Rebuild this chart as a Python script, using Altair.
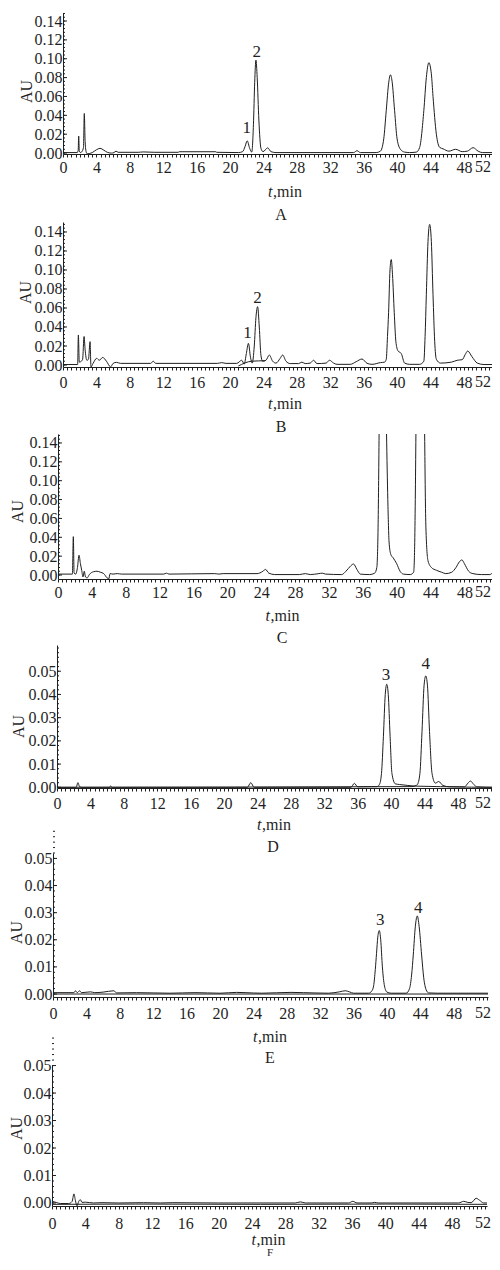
import altair as alt
import pandas as pd

FONT = "Liberation Serif"
INK = "#1f1f1f"

# ---------------- data ----------------
# Panel A
A_T = [0, 1.7, 1.82, 1.88, 1.95, 2.1, 2.3, 2.45, 2.55, 2.65, 2.78, 2.9, 3.5, 4.0, 4.43, 4.9, 5.3, 5.8, 6.1, 6.35,
       6.6, 9.0, 9.6, 11.0, 13.8, 13.9, 18.3, 18.4, 21.0, 21.5, 21.8, 22.05, 22.35, 22.6, 22.8, 22.95, 23.1, 23.25,
       23.45, 23.7, 23.95, 24.5, 24.9, 25.5, 34.8, 35.2, 35.6, 37.5, 38.0, 38.4, 38.7, 39.0, 39.2, 39.4, 39.7, 40.0,
       40.4, 40.9, 41.5, 42.3, 42.7, 43.2, 43.5, 43.8, 44.1, 44.3, 44.7, 45.1, 45.5, 46.2, 47.0, 47.8, 48.4, 49.1,
       49.7, 50.2, 52.2]
A_AU = [0.0005, 0.0005, 0.003, 0.018, 0.002, 0.0005, 0.002, 0.006, 0.042, 0.012, 0.001, -0.0008, 0.0005, 0.0035,
        0.005, 0.003, 0.0008, 0.0, 0.0005, 0.002, 0.0008, 0.0008, 0.0012, 0.0008, 0.0008, 0.0014, 0.0014, 0.0008,
        0.0005, 0.0015, 0.007, 0.013, 0.005, 0.001, 0.03, 0.075, 0.0986, 0.08, 0.035, 0.005, 0.0015, 0.0055, 0.0015,
        0.0005, 0.0005, 0.0025, 0.0005, 0.0005, 0.002, 0.015, 0.045, 0.075, 0.083, 0.076, 0.045, 0.015, 0.004, 0.001,
        0.0005, 0.001, 0.006, 0.045, 0.08, 0.0958, 0.084, 0.06, 0.02, 0.006, 0.0045, 0.002, 0.004, 0.0015, 0.002,
        0.0057, 0.002, 0.0005, 0.0005]
A_PEAK_T = [22.0, 23.2]
A_PEAK_AU = [0.0262, 0.1074]
A_PEAK_LAB = ["1", "2"]

# Panel B
B_T = [0, 1.75, 1.84, 1.95, 2.2, 2.35, 2.52, 2.65, 2.85, 3.05, 3.24, 3.35, 3.6, 4.03, 4.35, 4.75, 5.2, 5.7, 6.0,
       6.4, 6.9, 10.5, 10.8, 11.1, 18.5, 19.0, 19.5, 20.8, 21.4, 21.7, 21.95, 22.2, 22.45, 22.65, 22.9, 23.1, 23.3,
       23.5, 23.7, 23.9, 24.3, 24.7, 25.1, 25.5, 26.0, 26.3, 26.7, 27.2, 28.2, 28.6, 29.0, 29.6, 30.0, 30.4, 31.5,
       31.9, 32.4, 32.8, 34.4, 35.1, 35.8, 36.4, 37.0, 38.0, 38.5, 38.7, 38.85, 38.98, 39.15, 39.3, 39.45, 39.66,
       39.85, 40.1, 40.5, 40.9, 41.5, 42.7, 43.2, 43.35, 43.5, 43.7, 43.9, 44.1, 44.3, 44.5, 44.7, 45.2, 46.5, 47.2,
       47.8, 48.15, 48.45, 48.97, 49.6, 50.4, 52.2]
B_AU = [0.0005, 0.0005, 0.0316, 0.003, 0.004, 0.006, 0.030, 0.016, 0.005, 0.006, 0.0246, -0.002, 0.0017, 0.007,
        0.005, 0.008, 0.004, -0.002, 0.0017, 0.0028, 0.0017, 0.0017, 0.004, 0.0017, 0.0017, 0.0025, 0.0017, 0.0017,
        0.005, 0.001, 0.012, 0.0228, 0.008, 0.002, 0.02, 0.05, 0.0614, 0.04, 0.01, 0.004, 0.005, 0.0105, 0.004,
        0.002, 0.007, 0.0105, 0.004, 0.0015, 0.0015, 0.003, 0.0015, 0.002, 0.005, 0.0015, 0.002, 0.005, 0.002,
        0.0007, 0.0007, 0.0035, 0.0063, 0.0018, 0.0007, 0.0025, 0.003, 0.006, 0.03, 0.055, 0.1, 0.111, 0.095, 0.055,
        0.025, 0.015, 0.012, 0.002, 0.0007, 0.0007, 0.004, 0.03, 0.074, 0.13, 0.148, 0.13, 0.074, 0.025, 0.006,
        0.002, 0.003, 0.005, 0.0056, 0.011, 0.0147, 0.0087, 0.002, 0.0005, 0.0005]
B_BASE_T = [21.0, 22.6, 24.2]
B_BASE_AU = [-0.001, 0.004, 0.0045]
B_PEAK_T = [22.1, 23.3]
B_PEAK_AU = [0.0334, 0.070]
B_PEAK_LAB = ["1", "2"]

# Panel C (the two big peaks run off the top of the frame: three visible pieces)
C1_T = [0, 1.7, 1.81, 1.9, 2.1, 2.3, 2.48, 2.65, 2.8, 2.95, 3.1, 3.25, 3.45, 3.7, 4.2, 4.6, 5.0, 5.4, 5.8, 6.0,
        6.15, 6.5, 7.0, 7.5, 12.5, 12.8, 13.1, 18.5, 19.0, 19.5, 23.5, 24.2, 24.5, 24.9, 25.6, 28.5, 29.2, 29.8,
        30.8, 31.2, 31.6, 33.5, 34.0, 34.3, 34.6, 34.9, 35.3, 35.7, 36.8, 37.4, 37.65, 37.8, 37.92]
C1_AU = [0.001, 0.001, 0.0407, 0.002, 0.001, 0.008, 0.021, 0.012, 0.005, -0.002, 0.004, -0.002, -0.003, 0.0005,
         0.0035, 0.004, 0.003, 0.0015, -0.003, -0.004, 0.0015, 0.001, 0.0015, 0.001, 0.001, 0.002, 0.001, 0.0015,
         0.001, 0.0015, 0.0015, 0.004, 0.006, 0.002, 0.0005, 0.0005, 0.0015, 0.0005, 0.0015, 0.002, 0.001, 0.0005,
         0.004, 0.007, 0.01, 0.0117, 0.006, 0.001, 0.0005, 0.002, 0.008, 0.05, 0.1495]
C2_T = [38.8, 38.95, 39.1, 39.3, 39.6, 40.0, 40.4, 40.8, 41.6, 42.0, 42.12, 42.27]
C2_AU = [0.1495, 0.08, 0.035, 0.022, 0.018, 0.012, 0.004, 0.001, 0.0005, 0.003, 0.03, 0.1495]
C3_T = [43.3, 43.45, 43.7, 44.1, 44.7, 45.3, 45.8, 46.5, 47.0, 47.4, 47.7, 48.0, 48.5, 49.0, 50.0, 51.0, 51.4,
        51.8, 52.2]
C3_AU = [0.1495, 0.05, 0.015, 0.008, 0.005, 0.003, 0.0015, 0.003, 0.008, 0.014, 0.016, 0.012, 0.004, 0.0015,
         0.0005, 0.0005, 0.0025, 0.002, 0.0005]

# Panel D (two overlaid runs)
D1_T = [0, 2.3, 2.5, 2.7, 3.0, 6.3, 6.4, 6.6, 22.8, 23.2, 23.6, 35.2, 35.6, 36.0, 38.3, 38.6, 38.85, 39.08, 39.3,
        39.48, 39.66, 39.88, 40.1, 40.5, 41.0, 42.0, 43.0, 48.8, 49.2, 49.5, 49.9, 50.3, 52.2]
D1_AU = [0, 0, 0.002, 0.0003, 0, 0, 0.0006, 0, 0, 0.002, 0, 0, 0.0017, 0.0002, 0.0003, 0.0012, 0.006, 0.022,
         0.040, 0.0444, 0.040, 0.022, 0.006, 0.0015, 0.0012, 0.0008, 0.0005, 0.0002, 0.0018, 0.0027, 0.0012, 0.0002, 0]
D2_T = [0, 42.5, 43.0, 43.15, 43.45, 43.7, 43.95, 44.15, 44.35, 44.6, 44.9, 45.3, 45.7, 46.2, 47.0, 52.2]
D2_AU = [0, 0.0003, 0.0008, 0.0012, 0.006, 0.024, 0.044, 0.048, 0.044, 0.024, 0.006, 0.0018, 0.0025, 0.0008,
         0.0002, 0]
D_PEAK_T = [39.4, 44.15]
D_PEAK_AU = [0.0484, 0.0533]
D_PEAK_LAB = ["3", "4"]

# Panel E
E_T = [0, 2.5, 2.7, 2.9, 3.2, 3.4, 4.5, 5.0, 6.0, 7.3, 7.6, 10.0, 14.0, 17.0, 20.0, 22.0, 23.0, 25.0, 28.5, 30.0,
       33.0, 34.3, 35.0, 35.5, 36.0, 37.8, 38.2, 38.4, 38.6, 38.75, 38.9, 39.08, 39.25, 39.45, 39.7, 40.0, 40.5,
       42.3, 42.7, 42.95, 43.15, 43.4, 43.63, 43.85, 44.15, 44.4, 44.7, 45.0, 46.0, 52.1]
E_AU = [0.0005, 0.0005, 0.0012, 0.0005, 0.0012, 0.0005, 0.0008, 0.0005, 0.0007, 0.0012, 0.0004, 0.0005, 0.0003,
        0.0005, 0.0003, 0.0006, 0.0005, 0.0003, 0.0006, 0.0005, 0.0003, 0.0008, 0.0012, 0.0008, 0.0003, 0.0003,
        0.0012, 0.003, 0.009, 0.015, 0.021, 0.0234, 0.02, 0.01, 0.003, 0.0007, 0.0003, 0.0003, 0.002, 0.007, 0.0144,
        0.025, 0.0288, 0.025, 0.0144, 0.006, 0.0015, 0.0004, 0.0003, 0.0003]
E_BASE_T = [0, 52.1]
E_BASE_AU = [0.0, 0.0]
E_PEAK_T = [39.2, 43.75]
E_PEAK_AU = [0.0273, 0.0316]
E_PEAK_LAB = ["3", "4"]

# Panel F
F_T = [0, 0.5, 1.0, 2.0, 2.4, 2.64, 2.8, 3.0, 3.2, 3.4, 3.6, 4.0, 5.0, 6.0, 8.0, 11.0, 13.0, 14.5, 20.0, 29.2,
       29.8, 30.4, 35.6, 36.1, 36.6, 38.3, 38.7, 39.2, 48.8, 49.4, 49.9, 50.3, 50.9, 51.3, 51.8, 52.2]
F_AU = [0.0006, 0.0002, -0.0002, -0.0002, 0.0005, 0.0033, 0.001, -0.001, 0.0005, 0.0012, 0.0002, 0.0003, 0.0,
        0.0001, 0.0, 0.0001, 0.0, 0.0001, 0.0, 0.0, 0.0004, 0.0, 0.0, 0.0006, 0.0, 0.0, 0.0002, 0.0, 0.0, 0.0006,
        0.0002, 0.0001, 0.0017, 0.001, 0.0, 0.0]
F2_T = [0, 10, 25, 40, 52.2]
F2_AU = [-0.0005, -0.0004, -0.0005, -0.0004, -0.0005]

# axis tick positions / labels
X_TICKS = [i * 0.5 for i in range(105)]
X_LAST = [52]          # last tick label, drawn separately so it stays inside the page
Y_MAJOR_HI = [0.0, 0.02, 0.04, 0.06, 0.08, 0.10, 0.12, 0.14]
Y_MINOR_HI = [round(i * 0.004, 3) for i in range(38)]
Y_MAJOR_LO = [0.0, 0.01, 0.02, 0.03, 0.04, 0.05]
Y_MINOR_LO = [round(i * 0.002, 3) for i in range(31)]

M = 8                 # page margin
VW, VH = 484, 1250    # one shared view filling the page body (page px 8..492, 8..1258)
RIGHT_LIMIT = 483     # centre limit for the last tick label (page px)


def one():
    return alt.Data(values=[{"k": 0}])


def txt(s, x, y, size=16, **kw):
    return alt.Chart(one()).mark_text(text=s, font=FONT, fontSize=size, color=INK, baseline="middle", **kw).encode(
        x=alt.value(x - M), y=alt.value(y - M))


def panel(traces, c, peaks=None, texts=()):
    x0, x1, y0, y1 = c["x0"], c["x0"] + c["W"], c["y0"], c["y1"]
    xs = alt.Scale(domain=[0, c["xmax"]], range=[x0 - M, x1 - M], nice=False, zero=False)
    ys = alt.Scale(domain=c["ydom"], range=[y1 - M, y0 - M], nice=False, zero=False)
    df = pd.concat([pd.DataFrame({"t": t, "au": a, "series": n}) for n, t, a in traces])

    xaxis = alt.Axis(orient="bottom", offset=(y1 - M) - VH, values=X_TICKS,
                     labelExpr="datum.value % 4 === 0 && datum.value < 52 ? format(datum.value, 'd') : ''",
                     tickSize=3, tickColor=INK, domainColor=INK, labelFont=FONT, labelFontSize=16,
                     labelColor=INK, labelPadding=c["xpad"], labelBaseline="middle", labelFlush=False,
                     labelOverlap=False, grid=False, title="")
    yaxis = alt.Axis(orient="left", offset=-(x0 - M), values=c["ymajor"], format=".2f", ticks=False,
                     labelPadding=1, labelFont=FONT, labelFontSize=16, labelColor=INK, labelOverlap=False,
                     labelFlush=False, grid=False, domainColor=INK, title="AU", titleFont=FONT, titleFontSize=16,
                     titleFontWeight="normal", titleColor=INK, titleX=c["aux"], titleY=c["auy"] - M,
                     titleAngle=270, titleBaseline="middle", titleAlign="center")

    X = lambda f: alt.X(f, scale=xs, axis=xaxis)
    Y = lambda f: alt.Y(f, scale=ys, axis=yaxis)

    # last x tick label ("52"): placed at its tick, nudged left only if it would leave the page
    tick52 = x0 + X_LAST[0] / c["xmax"] * c["W"]
    shift = min(0.0, RIGHT_LIMIT - tick52)
    label_y = y1 + 3 + c["xpad"]

    layers = [
        alt.Chart(df).mark_line(color=INK, strokeWidth=1, interpolate="monotone").encode(
            x=X("t:Q"), y=Y("au:Q"), detail="series:N"),
        alt.Chart(pd.DataFrame({"au": c["yminor"]})).mark_rule(color=INK, strokeWidth=1).encode(
            y=Y("au:Q"), x=alt.value(x0 - M), x2=alt.value(x0 - M + 2)),
        alt.Chart(pd.DataFrame({"au": c["ymajor"]})).mark_rule(color=INK, strokeWidth=1).encode(
            y=Y("au:Q"), x=alt.value(x0 - M), x2=alt.value(x0 - M + 4)),
        alt.Chart(pd.DataFrame({"t": X_LAST, "lab": [str(v) for v in X_LAST]})).mark_text(
            font=FONT, fontSize=16, color=INK, baseline="middle", align="center", dx=shift).encode(
            x=X("t:Q"), y=alt.value(label_y - M), text="lab:N"),
    ]
    if peaks is not None:
        pt, pa, pl = peaks
        layers.append(alt.Chart(pd.DataFrame({"t": pt, "au": pa, "lab": pl})).mark_text(
            font=FONT, fontSize=17, color=INK, baseline="middle").encode(
            x=X("t:Q"), y=Y("au:Q"), text="lab:N"))
    tx, ty = c["tmin"]
    layers.append(txt("t", tx - 12.5, ty, fontStyle="italic", align="right"))
    layers.append(txt(",min", tx - 12, ty, align="left"))
    for s, lx, ly, kw in texts:
        layers.append(txt(s, lx, ly, align="center", **kw))
    return alt.layer(*layers)


hi = dict(ymajor=Y_MAJOR_HI, yminor=Y_MINOR_HI)
lo = dict(ymajor=Y_MAJOR_LO, yminor=Y_MINOR_LO)

# page-pixel geometry
cA = dict(hi, x0=63, W=436, y0=13, y1=154, xmax=52.2, ydom=[-0.001, 0.1485], xpad=10, aux=-37, auy=91,
          tmin=(285, 192))
cB = dict(hi, x0=63, W=436, y0=222, y1=367, xmax=52.2, ydom=[-0.0021, 0.1505], xpad=12, aux=-38, auy=292,
          tmin=(285, 404))
cC = dict(hi, x0=58, W=442, y0=434, y1=579, xmax=52.2, ydom=[-0.0042, 0.1495], xpad=10, aux=-41, auy=511,
          tmin=(282.5, 616))
cD = dict(lo, x0=57, W=436, y0=645, y1=788, xmax=52.2, ydom=[-0.0003, 0.0613], xpad=12, aux=-39, auy=726,
          tmin=(274, 825))
cE = dict(lo, x0=53, W=435, y0=853, y1=997, xmax=52.1, ydom=[-0.0011, 0.052], xpad=13, aux=-36.5, auy=932,
          tmin=(270, 1037))
cF = dict(lo, x0=52, W=435, y0=1065, y1=1206, xmax=52.2, ydom=[-0.0011, 0.0502], xpad=14, aux=-35.5, auy=1128,
          tmin=(268.5, 1240))

pA = panel([("A", A_T, A_AU)], cA, peaks=(A_PEAK_T, A_PEAK_AU, A_PEAK_LAB), texts=[("A", 281, 215, {})])
pB = panel([("B", B_T, B_AU), ("Bb", B_BASE_T, B_BASE_AU)], cB, peaks=(B_PEAK_T, B_PEAK_AU, B_PEAK_LAB),
           texts=[("B", 281, 427, {})])
pC = panel([("C1", C1_T, C1_AU), ("C2", C2_T, C2_AU), ("C3", C3_T, C3_AU)], cC, texts=[("C", 282, 638, {})])
pD = panel([("D1", D1_T, D1_AU), ("D2", D2_T, D2_AU)], cD, peaks=(D_PEAK_T, D_PEAK_AU, D_PEAK_LAB),
           texts=[("D", 273, 847, {})])
pE = panel([("E", E_T, E_AU), ("Eb", E_BASE_T, E_BASE_AU)], cE, peaks=(E_PEAK_T, E_PEAK_AU, E_PEAK_LAB),
           texts=[("E", 270, 1058, {})])
pF = panel([("F", F_T, F_AU), ("F2", F2_T, F2_AU)], cF, texts=[("F", 270, 1252.5, {"size": 11})])

chart = alt.layer(pA, pB, pC, pD, pE, pF).resolve_scale(
    x="independent", y="independent"
).resolve_axis(
    x="independent", y="independent"
).properties(
    width=VW, height=VH, padding=0, autosize=alt.AutoSizeParams(type="none")
).configure_view(strokeWidth=0)

chart.save("out.html", embed_options={"renderer": "svg", "actions": False})
